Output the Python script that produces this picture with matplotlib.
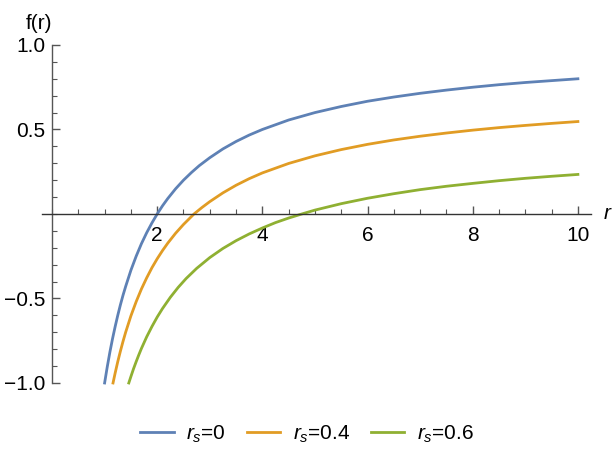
import matplotlib.pyplot as plt
from matplotlib.ticker import MultipleLocator, FixedLocator

plt.rcParams['font.family'] = ['Liberation Sans', 'DejaVu Sans']
plt.rcParams['mathtext.fontset'] = 'custom'
plt.rcParams['mathtext.it'] = 'Liberation Sans:italic'
plt.rcParams['mathtext.rm'] = 'Liberation Sans'

# values
r_blue = [1.0, 1.05, 1.1, 1.15, 1.2, 1.25, 1.3, 1.35, 1.4, 1.5, 1.6, 1.7, 1.8, 1.9, 2.0, 2.1, 2.2, 2.35, 2.5, 2.65, 2.8, 3.0,
          3.25, 3.5, 3.75, 4.0, 4.5, 5.0, 5.5, 6.0, 6.5, 7.0, 7.5, 8.0, 8.5, 9.0, 9.5, 10.0]
f_blue = [-1.0, -0.905, -0.818, -0.739, -0.667, -0.60, -0.538, -0.481, -0.429, -0.333, -0.25, -0.176, -0.111, -0.053, 0.0,
          0.048, 0.091, 0.149, 0.20, 0.245, 0.286, 0.333, 0.385, 0.429, 0.467, 0.50, 0.556, 0.60, 0.636, 0.667, 0.692,
          0.714, 0.733, 0.75, 0.765, 0.778, 0.789, 0.80]

r_orange = [1.16, 1.2, 1.25, 1.3, 1.35, 1.4, 1.5, 1.6, 1.7, 1.8, 1.9, 2.0, 2.1, 2.2, 2.35, 2.5, 2.7, 2.85, 3.0, 3.25, 3.5,
            3.75, 4.0, 4.5, 5.0, 5.5, 6.0, 6.5, 7.0, 7.5, 8.0, 8.5, 9.0, 9.5, 10.0]
f_orange = [-1.0, -0.942, -0.874, -0.812, -0.754, -0.70, -0.603, -0.519, -0.444, -0.378, -0.318, -0.265, -0.217, -0.173,
            -0.114, -0.062, 0.0, 0.038, 0.073, 0.125, 0.17, 0.209, 0.243, 0.299, 0.344, 0.381, 0.412, 0.438, 0.46, 0.479,
            0.496, 0.511, 0.524, 0.536, 0.547]

r_green = [1.46, 1.5, 1.55, 1.6, 1.65, 1.7, 1.8, 1.9, 2.0, 2.1, 2.25, 2.4, 2.55, 2.75, 3.0, 3.25, 3.5, 3.75, 4.0, 4.25,
           4.5, 4.75, 5.0, 5.5, 6.0, 6.5, 7.0, 7.5, 8.0, 8.5, 9.0, 9.5, 10.0]
f_green = [-1.0, -0.962, -0.916, -0.874, -0.834, -0.796, -0.727, -0.666, -0.61, -0.56, -0.493, -0.434, -0.382, -0.322,
           -0.258, -0.204, -0.158, -0.118, -0.083, -0.051, -0.024, 0.0, 0.023, 0.061, 0.093, 0.12, 0.144, 0.164, 0.181,
           0.197, 0.211, 0.223, 0.234]

labels = ['$r_s$=0', '$r_s$=0.4', '$r_s$=0.6']
colors = ['#5E81B5', '#E19C24', '#8FB032']

fig = plt.figure(figsize=(6.14, 4.58), dpi=100)
ax = fig.add_axes([0.0676, 0.1638, 0.895, 0.738])

for rr, ff, lab, c in zip([r_blue, r_orange, r_green], [f_blue, f_orange, f_green], labels, colors):
    ax.plot(rr, ff, color=c, lw=2, label=lab, clip_on=False, solid_joinstyle='round')

ax.set_xlim(-0.2, 10.25)
ax.set_ylim(-1.0, 1.0)

ax.spines['top'].set_visible(False)
ax.spines['right'].set_visible(False)
ax.spines['left'].set_position(('data', 0))
ax.spines['bottom'].set_position(('data', 0))
ax.spines['left'].set_color('#555555')
ax.spines['bottom'].set_color('#333333')
ax.spines['left'].set_linewidth(1)
ax.spines['bottom'].set_linewidth(1)

ax.xaxis.set_major_locator(FixedLocator([2, 4, 6, 8, 10]))
ax.xaxis.set_minor_locator(MultipleLocator(0.5))
ax.yaxis.set_major_locator(FixedLocator([-1.0, -0.5, 0.5, 1.0]))
ax.yaxis.set_minor_locator(MultipleLocator(0.1))
ax.set_yticklabels(['\u22121.0', '\u22120.5', '0.5', '1.0'])

ax.tick_params(which='both', direction='in', colors='#555555', labelcolor='black', labelsize=15)
ax.tick_params(which='major', length=6, width=1)
ax.tick_params(which='minor', length=3.5, width=0.8)
ax.tick_params(axis='x', which='both', pad=9)
ax.tick_params(axis='y', which='both', pad=5)

ax.text(10.55, 0.0, 'r', style='italic', fontsize=15, ha='center', va='center')
ax.text(0.0, 1.07, 'f(r)', fontsize=15, ha='right', va='bottom', transform=ax.transData)

fig.legend(loc='lower center', bbox_to_anchor=(0.5, -0.012), ncol=3, frameon=False,
           fontsize=15, handlelength=1.6, columnspacing=1.0, handletextpad=0.6)

fig.savefig('out.png', dpi=100)
